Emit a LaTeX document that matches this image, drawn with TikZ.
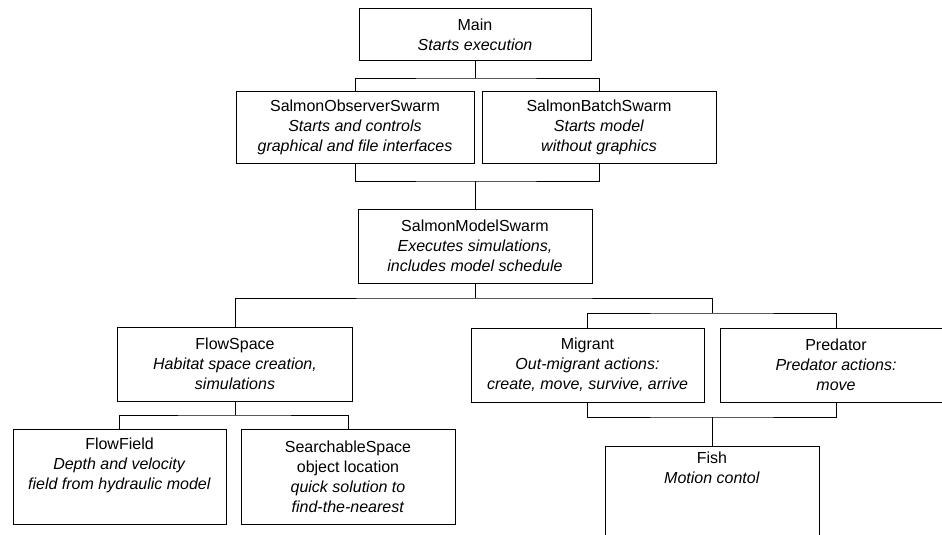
\documentclass[tikz,border=0pt]{standalone}
\usepackage{fontspec}
\setmainfont{Liberation Sans}

\begin{document}
\begin{tikzpicture}[x=1pt, y=-1pt,
	classbox/.style={draw, line width=1pt, align=center, inner sep=2pt,
		font=\fontsize{16}{20}\selectfont},
	link/.style={line width=1pt}]
	\clip (0,0) rectangle (942,535);
	% top level
	\node[classbox, minimum width=232pt, minimum height=52pt] (main) at (475,35)
		{Main\\\textit{Starts execution}};
	% swarms
	\node[classbox, minimum width=238pt, minimum height=72pt] (observer) at (355,127)
		{SalmonObserverSwarm\\\textit{Starts and controls}\\\textit{graphical and file interfaces}};
	\node[classbox, minimum width=234pt, minimum height=72pt] (batch) at (599,127)
		{SalmonBatchSwarm\\\textit{Starts model}\\\textit{without graphics}};
	\node[classbox, minimum width=234pt, minimum height=74pt] (model) at (475,246)
		{SalmonModelSwarm\\\textit{Executes simulations,}\\\textit{includes model schedule}};
	% space side
	\node[classbox, minimum width=235pt, minimum height=74pt] (flowspace) at (235,364)
		{FlowSpace\\\textit{Habitat space creation,}\\\textit{simulations}};
	\node[classbox, minimum width=213pt, minimum height=95pt, text depth=27pt] (flowfield) at (119.5,477)
		{FlowField\\\textit{Depth and velocity}\\\textit{field from hydraulic model}};
	\node[classbox, minimum width=214pt, minimum height=95pt] (searchable) at (348,477)
		{SearchableSpace\\object location\\\textit{quick solution to}\\\textit{find-the-nearest}};
	% agent side
	\node[classbox, minimum width=233pt, minimum height=74pt] (migrant) at (587.5,365)
		{Migrant\\\textit{Out-migrant actions:}\\\textit{create, move, survive, arrive}};
	\node[classbox, minimum width=232pt, minimum height=74pt] (predator) at (836,365)
		{Predator\\\textit{Predator actions:}\\\textit{move}};
	\node[classbox, minimum width=214pt, minimum height=100pt, text depth=56pt] (fish) at (712,496)
		{Fish\\\textit{Motion contol}};
	% tree lines
	\coordinate (mainbar) at (475,78);
	\coordinate (swarmbar) at (475,181);
	\coordinate (modelbar) at (475,298);
	\coordinate (agentbar) at (712,313);
	\coordinate (spacebar) at (235,415);
	\coordinate (fishbar) at (712,417);
	\draw[link] (main) -- (mainbar);
	\draw[link] (observer.north) |- (mainbar) -| (batch.north);
	\draw[link] (observer.south) |- (swarmbar) -| (batch.south);
	\draw[link] (swarmbar) -- (model);
	\draw[link] (model) -- (modelbar);
	\draw[link] (flowspace.north) |- (modelbar) -| (agentbar);
	\draw[link] (migrant.north) |- (agentbar) -| (predator.north);
	\draw[link] (flowspace) -- (spacebar);
	\draw[link] (flowfield.north) |- (spacebar) -| (searchable.north);
	\draw[link] (migrant.south) |- (fishbar) -| (predator.south);
	\draw[link] (fishbar) -- (fish);
\end{tikzpicture}
\end{document}
